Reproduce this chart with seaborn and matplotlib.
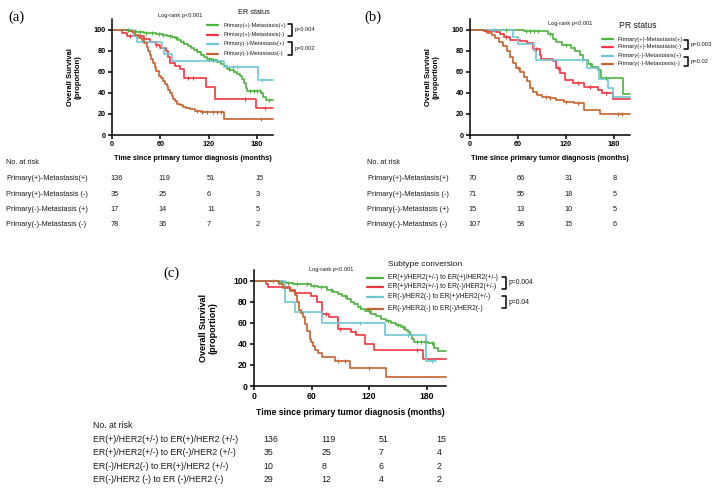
import numpy as np
import pandas as pd
import matplotlib
matplotlib.use("Agg")
import matplotlib.pyplot as plt
from matplotlib.lines import Line2D
from matplotlib.transforms import blended_transform_factory
import seaborn as sns

# ---------------- data ----------------
# Panel (a) ER status
a_g_t = [0,15,22,30,40,48,55,62,68,74,78,82,86,90,94,98,102,106,110,114,118,124,130,135,139,143,147,151,155,159,162,164,166,168,185,188,191,200]
a_g_s = [100,99.3,98.5,97.8,97,96.3,95.6,95,94,93,92,90.5,88.5,86.5,84.5,82.5,80.5,78.5,76,74,72.5,71,69.5,67.5,65,63,61.5,60,58,56,53,49,45,42,39.5,36.5,33.5,33.5]
a_r_t = [0,12,19,40,47,55,60,67,70,72,78,84,90,117,128,179,200]
a_r_s = [100,97.1,94.3,91.4,88.6,85.7,82.9,80,74.3,68.6,65.7,62.9,54.3,45.7,34.3,25.7,25.7]
a_c_t = [0,26,31,62,64,74,139,181,200]
a_c_s = [100,94.1,88.2,82.4,76.5,70.6,64.7,51.8,51.8]
a_b_t = [0,20,25,29,33,37,40,43,45,47,49,51,53,55,58,61,63,66,68,70,72,74,76,78,81,84,88,92,97,103,110,139,200]
a_b_s = [100,98.7,97.4,94.9,92.3,89.7,87.2,83.3,79.5,75.6,71.8,67.9,64.1,60.3,56.4,53.8,51.3,48.7,46.2,42.3,39.7,37.2,34.6,32,29.5,28.2,26.9,25.6,24.4,23.1,22,15.3,15.3]
a_cens = [[20,28,35,42,50,58,63,72,80,88,105,120,125,145,150,172,176,180,184,195],
          [22,55,95,100,165,190],
          [150,155,186],
          [105,112,118,125,130,135,185]]

# Panel (b) PR status
b_g_t = [0,68,98,104,108,115,126,131,137,141,148,153,160,164,191,200]
b_g_s = [100,98.6,95.7,91.4,88.6,85.7,82.9,80,75.7,71.4,67.1,64.3,61.4,54.3,38.6,38.6]
b_r_t = [0,17,33,37,42,50,62,71,79,87,89,104,108,112,119,129,142,160,165,179,200]
b_r_s = [100,98.6,97.2,95.8,93,90.1,88.7,87.3,81.7,76,71.8,70.4,63.4,59.2,52.1,49.3,45.1,42.3,39.4,33.8,33.8]
b_c_t = [0,54,60,80,83,146,161,172,179,200]
b_c_s = [100,93.3,86.7,80,71.1,64,53.3,44.4,35.6,35.6]
b_b_t = [0,17,22,27,31,36,41,46,50,54,58,62,67,71,75,79,84,90,100,108,118,130,142,162,200]
b_b_s = [100,99,97,95,92,88,84,80,74,68,64,60,55,51,45,41,38,36,35,33,31,30,24,20,20]
b_cens = [[30,45,70,75,80,85,100,120,130,150,170],
          [20,45,82,110,135,150,170],
          [30,140],
          [60,95,100,120,135,185,190]]

# Panel (c) subtype conversion
c_g_t = [0,17,25,33,41,50,59,67,76,82,87,92,97,101,104,108,111,116,122,127,132,137,143,148,153,157,160,163,165,167,181,188,192,200]
c_g_s = [100,99.3,98.5,97.8,97,96.3,95,93.5,91.5,89.5,87.5,85,82.5,80,77.5,75,73,71,68.5,66,63.5,61.5,59.5,57.5,55.5,53.5,51.5,48,44.5,42,40.5,36,33.5,33.5]
c_r_t = [0,13,15,38,43,59,66,71,78,87,88,101,106,116,125,176,200]
c_r_s = [100,97.1,94.3,91.4,88.6,85.7,80,68.6,65.7,60,54.3,51.4,48.6,40,34.3,25.7,25.7]
c_c_t = [0,32,43,71,136,179,190]
c_c_s = [100,80,70,60,48,24,24]
c_b_t = [0,26,30,38,43,45,47,49,51,53,55,58,59,61,64,67,71,84,100,138,200]
c_b_s = [100,96.6,93.1,89.7,86.2,79.3,72.4,69,65.5,58.6,51.7,44.8,41.4,37.9,34.5,31,27.6,24.1,17.2,8.6,8.6]
c_cens = [[20,28,35,45,55,62,70,80,95,110,120,140,150,155,170,174,178,185],
          [75,90,105,170],
          [110,160,185],
          [88,95,120]]

legend_ab = ["Primary(+)-Metastasis(+)", "Primary(+)-Metastasis(-)",
             "Primary(-)-Metastasis(+)", "Primary(-)-Metastasis(-)"]
risk_lab_ab = ["Primary(+)-Metastasis(+)", "Primary(+)-Metastasis (-)",
               "Primary(-)-Metastasis (+)", "Primary(-)-Metastasis (-)"]
legend_c = ["ER(+)/HER2(+/-) to ER(+)/HER2(+/-)", "ER(+)/HER2(+/-) to ER(-)/HER2(+/-)",
            "ER(-)/HER2(-) to ER(+)/HER2(+/-)", "ER(-)/HER2(-) to ER(-)/HER2(-)"]
risk_lab_c = ["ER(+)/HER2(+/-) to ER(+)/HER2 (+/-)", "ER(+)/HER2(+/-) to ER(-)/HER2 (+/-)",
              "ER(-)/HER2(-) to ER(+)/HER2 (+/-)", "ER(-)/HER2 (-) to ER (-)/HER2 (-)"]
risk_a = [[136,119,51,15],[35,25,6,3],[17,14,11,5],[78,36,7,2]]
risk_b = [[70,66,31,8],[71,55,18,5],[15,13,10,5],[107,58,15,6]]
risk_c = [[136,119,51,15],[35,25,7,4],[10,8,6,2],[29,12,4,2]]
risk_times = [0, 60, 120, 180]
x_ticks = [0, 60, 120, 180]
y_ticks = [0, 20, 40, 60, 80, 100]

colors = ["#4DB33D", "#F2343F", "#6DC7D3", "#C4622D"]

# ---------------- style ----------------
sns.set_theme(style="ticks")
plt.rcParams["font.family"] = ["Liberation Sans", "DejaVu Sans"]
TXT = "#1a1a1a"

W, H = 720, 492
fig = plt.figure(figsize=(W / 100, H / 100), dpi=100)


def fx(x):
    return x / W


def fy(y):
    return 1 - y / H


def add_km_axes(l, r, t, b):
    return fig.add_axes([fx(l), fy(b), fx(r - l), (b - t) / H])


def draw_km(ax, curves, cens, end, tick_fs, lab_fs, ylpad, xlpad):
    frames = []
    for i, (tt, ss) in enumerate(curves):
        frames.append(pd.DataFrame({"time": tt, "surv": ss, "grp": str(i)}))
    df = pd.concat(frames, ignore_index=True)
    sns.lineplot(data=df, x="time", y="surv", hue="grp", palette=colors,
                 estimator=None, sort=False, drawstyle="steps-post",
                 linewidth=1.2, legend=False, ax=ax, clip_on=False)
    for i, (tt, ss) in enumerate(curves):
        ct = np.array(cens[i], dtype=float)
        idx = np.searchsorted(np.array(tt), ct, side="right") - 1
        cy = np.array(ss)[idx]
        ax.plot(ct, cy, linestyle="none", marker="|", markersize=2.8,
                markeredgewidth=0.8, color=colors[i], clip_on=False)
    ax.set_xlim(0, end)
    ax.set_ylim(0, 110)
    ax.set_xticks(x_ticks)
    ax.set_yticks(y_ticks)
    for s in ["top", "right"]:
        ax.spines[s].set_visible(False)
    for s in ["left", "bottom"]:
        ax.spines[s].set_linewidth(1.1)
        ax.spines[s].set_color("black")
    ax.tick_params(axis="both", length=3, width=1.1, pad=1.5,
                   labelsize=tick_fs, colors="black")
    for lab in ax.get_xticklabels() + ax.get_yticklabels():
        lab.set_fontweight("bold")
    ax.set_xlabel("Time since primary tumor diagnosis (months)", fontsize=lab_fs,
                  fontweight="bold", labelpad=xlpad, color="black")
    ax.set_ylabel("Overall Survival\n(proportion)", fontsize=lab_fs + 0.3,
                  fontweight="bold", labelpad=ylpad, color="black",
                  multialignment="center", linespacing=1.1)
    ax.set_facecolor("none")


def legend_rows(x0, x1, xt, ys, labels, fs):
    for i, (y, lab) in enumerate(zip(ys, labels)):
        fig.add_artist(Line2D([fx(x0), fx(x1)], [fy(y), fy(y)], color=colors[i],
                              linewidth=1.6, transform=fig.transFigure))
        fig.text(fx(xt), fy(y), lab, fontsize=fs, va="center", ha="left", color=TXT)


def bracket(x, y1, y2, ptext, fs, w=4):
    fig.add_artist(Line2D([fx(x - w), fx(x), fx(x), fx(x - w)],
                          [fy(y1), fy(y1), fy(y2), fy(y2)], color="black",
                          linewidth=1.1, transform=fig.transFigure))
    fig.text(fx(x + 3), fy((y1 + y2) / 2), ptext, fontsize=fs, va="center",
             ha="left", color=TXT)


def risk_table(ax, lx, y_head, ys, labels, data, fs, dx):
    tr = blended_transform_factory(ax.transData, fig.transFigure)
    fig.text(fx(lx), fy(y_head), "No. at risk", fontsize=fs, va="center",
             ha="left", color=TXT)
    for y, lab, row in zip(ys, labels, data):
        fig.text(fx(lx), fy(y), lab, fontsize=fs, va="center", ha="left", color=TXT)
        for t, v in zip(risk_times, row):
            ax.text(t + dx, fy(y), str(v), transform=tr, fontsize=fs,
                    va="center", ha="left", color=TXT, clip_on=False)


# ---------------- panel (a) ----------------
ax_a = add_km_axes(112, 273, 19, 135)
draw_km(ax_a, [(a_g_t, a_g_s), (a_r_t, a_r_s), (a_c_t, a_c_s), (a_b_t, a_b_s)],
        a_cens, 200, 5.2, 5.2, 9, 5)
fig.text(fx(16), fy(17), "(a)", fontsize=10.5, family="Liberation Serif",
         ha="center", va="center", color="black")
fig.text(fx(180), fy(16), "Log-rank p<0.001", fontsize=4.1, ha="center",
         va="center", color=TXT)
fig.text(fx(254), fy(12.5), "ER status", fontsize=5.3, ha="center",
         va="center", color=TXT)
legend_rows(207, 218, 223, [25, 34.5, 44, 53.5], legend_ab, 4.1)
bracket(292, 23.5, 36, "p=0.004", 4.1)
bracket(292, 42, 55, "p=0.002", 4.1)
risk_table(ax_a, 6, 163, [179, 194.3, 209.7, 225], risk_lab_ab, risk_a, 5.3, -2)

# ---------------- panel (b) ----------------
ax_b = add_km_axes(470, 630, 19, 135)
draw_km(ax_b, [(b_g_t, b_g_s), (b_r_t, b_r_s), (b_c_t, b_c_s), (b_b_t, b_b_s)],
        b_cens, 200, 5.2, 5.2, 9, 5)
fig.text(fx(373), fy(17), "(b)", fontsize=10.5, family="Liberation Serif",
         ha="center", va="center", color="black")
fig.text(fx(570), fy(24), "Log-rank p<0.001", fontsize=4.1, ha="center",
         va="center", color=TXT)
fig.text(fx(638), fy(25), "PR status", fontsize=6.2, ha="center",
         va="center", color=TXT)
legend_rows(602, 613, 618, [39, 46.5, 56, 64], legend_ab, 4.2)
bracket(688, 40, 49, "p=0.003", 4.2)
bracket(688, 56.5, 66, "p=0.02", 4.2)
risk_table(ax_b, 367, 163, [179, 194.3, 209.7, 225], risk_lab_ab, risk_b, 5.3, -2)

# ---------------- panel (c) ----------------
ax_c = add_km_axes(254, 446, 270, 386)
draw_km(ax_c, [(c_g_t, c_g_s), (c_r_t, c_r_s), (c_c_t, c_c_s), (c_b_t, c_b_s)],
        c_cens, 200, 6.2, 6.2, 11, 5)
fig.text(fx(171), fy(273), "(c)", fontsize=10.5, family="Liberation Serif",
         ha="center", va="center", color="black")
fig.text(fx(331), fy(269), "Log-rank p<0.001", fontsize=4.1, ha="center",
         va="center", color=TXT)
fig.text(fx(425), fy(265), "Subtype conversion", fontsize=6.0, ha="center",
         va="center", color=TXT)
legend_rows(367, 383, 388, [277.5, 287, 297, 308.5], legend_c, 4.9)
bracket(506, 277, 289, "p=0.004", 4.9)
bracket(506, 296, 308, "p=0.04", 4.9)
risk_table(ax_c, 93, 425, [439.3, 452.7, 466.3, 479.7], risk_lab_c, risk_c, 6.3, 10)

fig.savefig("out.png", dpi=100)
